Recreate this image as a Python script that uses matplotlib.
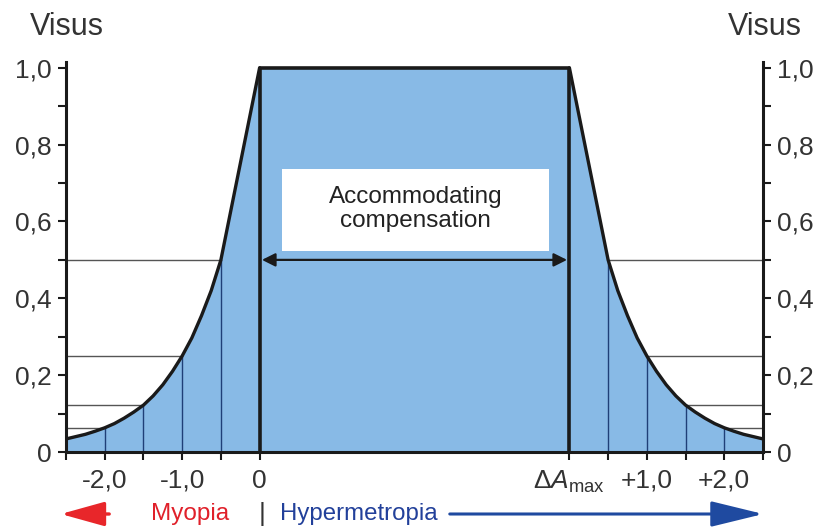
import numpy as np
import matplotlib
matplotlib.use('Agg')
import matplotlib.pyplot as plt
from matplotlib.ticker import MultipleLocator
from matplotlib.patches import FancyArrowPatch, Rectangle

plt.rcParams['font.family'] = ['Liberation Sans', 'DejaVu Sans']
plt.rcParams['mathtext.fontset'] = 'custom'
plt.rcParams['mathtext.rm'] = 'Liberation Sans'
plt.rcParams['mathtext.it'] = 'Liberation Sans:italic'

# defocus (dpt) on the myopic side
defocus = [-2.5, -2.375, -2.25, -2.125, -2.0, -1.875, -1.75, -1.625, -1.5,
           -1.375, -1.25, -1.125, -1.0, -0.875, -0.75, -0.625, -0.5, 0.0]
visus = [0.034, 0.040, 0.046, 0.054, 0.063, 0.074, 0.088, 0.104, 0.122,
         0.146, 0.175, 0.21, 0.25, 0.297, 0.355, 0.42, 0.5, 1.0]
# width of accommodation plateau in axis units
da_max = 4.0
# levels of the helper lines and where they meet the curve
grid_x = [-2.0, -1.5, -1.0, -0.5]
grid_v = [0.063, 0.122, 0.25, 0.5]

yticks = [0, 0.2, 0.4, 0.6, 0.8, 1.0]
ytick_labels = ['0', '0,2', '0,4', '0,6', '0,8', '1,0']
xticks = [-2.0, -1.0, 0.0, da_max, da_max + 1, da_max + 2]
xtick_labels = ['-2,0', '-1,0', '0', r'$\Delta A_{\mathrm{max}}$', '+1,0', '+2,0']

fill_col = '#88bae6'
text_col = '#333333'

fig = plt.figure(figsize=(8.26, 5.27), dpi=100)
ax = fig.add_axes([66 / 826, 75 / 527, 697 / 826, 390 / 527])

x_left = np.array(defocus)
v_left = np.array(visus)
# right side mirrors the left one behind the plateau
x_right = da_max - x_left[::-1]
v_right = v_left[::-1]

xs = np.concatenate([x_left, x_right])
vs = np.concatenate([v_left, v_right])
ax.fill_between(xs, 0, vs, color=fill_col, lw=0, zorder=1)
ax.plot(x_left, v_left, color='#1a1a1a', lw=2.4, zorder=4, solid_capstyle='round')
ax.plot(x_right, v_right, color='#1a1a1a', lw=2.4, zorder=4, solid_capstyle='round')

# plateau outline
ax.plot([0, 0, da_max, da_max], [0, 1.0, 1.0, 0], color='#1a1a1a', lw=2.6, zorder=4)

# helper lines
for gx, gv in zip(grid_x, grid_v):
    ax.plot([-2.5, gx], [gv, gv], color='#555555', lw=1.0, zorder=2)
    ax.plot([gx, gx], [0, gv], color='#1f3f77', lw=1.0, zorder=2)
    rx = da_max - gx
    ax.plot([rx, da_max + 2.5], [gv, gv], color='#555555', lw=1.0, zorder=2)
    ax.plot([rx, rx], [0, gv], color='#1f3f77', lw=1.0, zorder=2)

# accommodation arrow
ax.annotate('', xy=(0.03, 0.5), xytext=(da_max - 0.03, 0.5),
            arrowprops=dict(arrowstyle='<|-|>', color='#1a1a1a', lw=1.6,
                            mutation_scale=20, shrinkA=0, shrinkB=0), zorder=5)
ax.add_patch(Rectangle((0.284, 0.523), 3.45, 0.214, fc='white', ec='none', zorder=6))
ax.text(2.01, 0.632, 'Accommodating\ncompensation', ha='center', va='center',
        fontsize=17.5, color='#222222', linespacing=1.1, zorder=7)

ax.set_xlim(-2.5, da_max + 2.5)
ax.set_ylim(0, 1.015)

ax.spines['top'].set_visible(False)
for side in ['left', 'right', 'bottom']:
    ax.spines[side].set_linewidth(2.2)
    ax.spines[side].set_color('#1a1a1a')

ax.set_yticks(yticks)
ax.set_yticklabels(ytick_labels)
ax.yaxis.set_minor_locator(MultipleLocator(0.1))
ax.tick_params(axis='y', which='both', left=True, right=True, labelleft=True, labelright=True,
               direction='out', labelsize=19, labelcolor=text_col, color='#1a1a1a', pad=4,
               length=6, width=1.5)

ax.set_xticks(xticks)
ax.set_xticklabels(xtick_labels)
ax.set_xticks([-2.5, -1.5, -0.5, da_max + 0.5, da_max + 1.5, da_max + 2.5], minor=True)
ax.tick_params(axis='x', which='both', direction='out', length=6, width=1.5,
               labelsize=19, labelcolor=text_col, color='#1a1a1a', pad=6)

fig.text(30 / 826, 1 - 27 / 527, 'Visus', fontsize=22, color=text_col, ha='left', va='center')
fig.text(802 / 826, 1 - 27 / 527, 'Visus', fontsize=22, color=text_col, ha='right', va='center')

# bottom direction labels
yb = 1 - 514 / 527
fig.text(190 / 826, yb, 'Myopia', fontsize=17.5, color='#e0202a', ha='center', va='center')
fig.text(262 / 826, yb, '|', fontsize=19, color='#333333', ha='center', va='center')
fig.text(280 / 826, yb, 'Hypermetropia', fontsize=17.3, color='#22409a', ha='left', va='center')
fig.patches.append(FancyArrowPatch(
    (112 / 826, yb), (58 / 826, yb), transform=fig.transFigure,
    arrowstyle='-|>,head_length=0.9,head_width=0.25', mutation_scale=30, color='#e8262a', lw=2.4))
fig.patches.append(FancyArrowPatch(
    (447 / 826, yb), (766 / 826, yb), transform=fig.transFigure,
    arrowstyle='-|>,head_length=0.9,head_width=0.22', mutation_scale=36, color='#1f4aa0', lw=2.2))

fig.savefig('out.png', dpi=100)
